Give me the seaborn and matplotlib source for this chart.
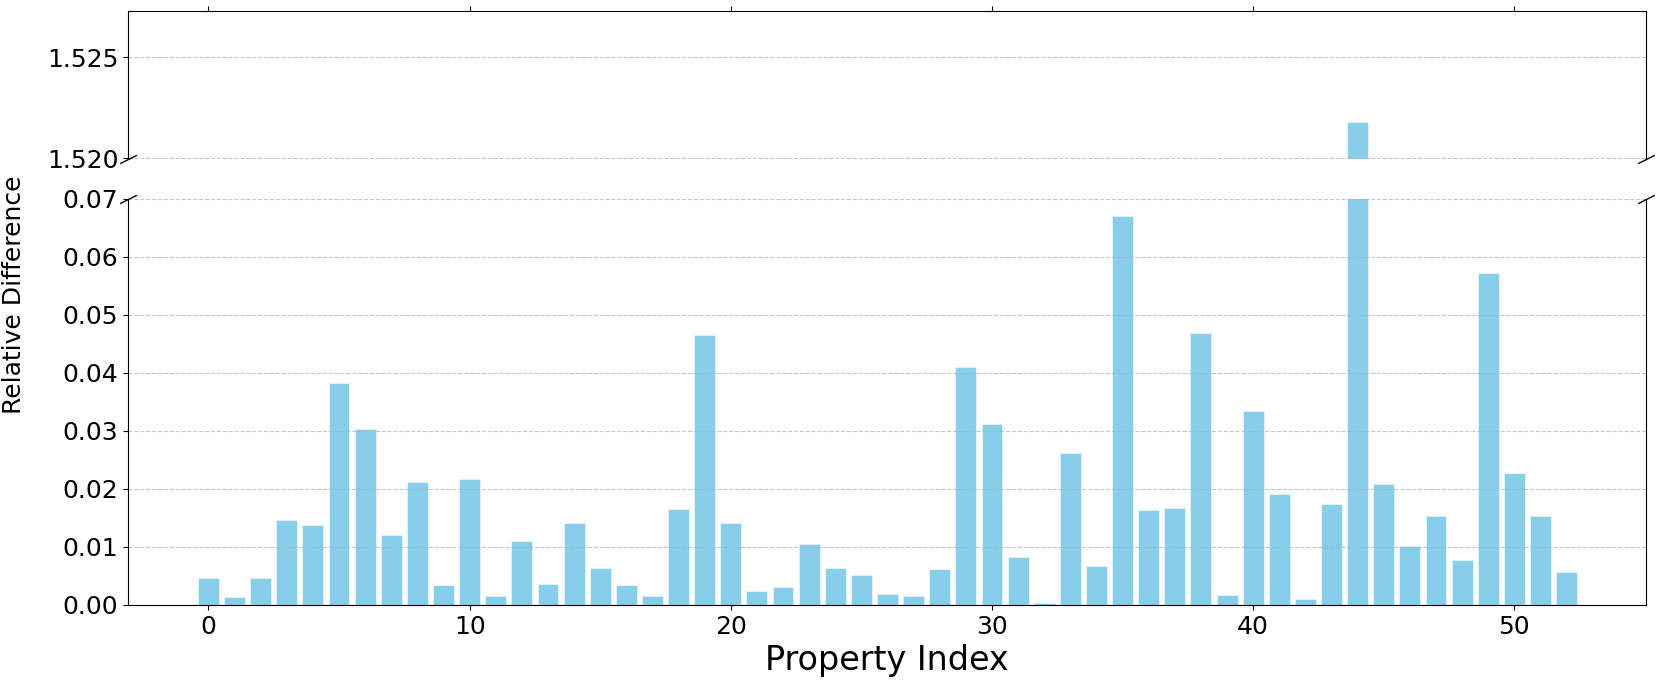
import numpy as np
import pandas as pd
import matplotlib
matplotlib.use("Agg")
import matplotlib.pyplot as plt
import matplotlib.ticker as mticker
import seaborn as sns

# ---- data ----
property_index = list(range(53))
relative_difference = [
    0.0046, 0.0013, 0.0046, 0.0147, 0.0138, 0.0383, 0.0304, 0.0120, 0.0212, 0.0035,
    0.0218, 0.0015, 0.0110, 0.0036, 0.0141, 0.0064, 0.0034, 0.0015, 0.0166, 0.0466,
    0.0141, 0.0025, 0.0031, 0.0105, 0.0064, 0.0051, 0.0019, 0.0016, 0.0062, 0.0410,
    0.0312, 0.0083, 0.0003, 0.0262, 0.0067, 0.0670, 0.0164, 0.0167, 0.0469, 0.0017,
    0.0334, 0.0192, 0.0010, 0.0174, 1.52180, 0.0209, 0.0102, 0.0153, 0.0077, 0.0573,
    0.0227, 0.0153, 0.0057,
]
x_ticks = [0, 10, 20, 30, 40, 50]
top_ticks = [1.520, 1.525]
bottom_ticks = [0.00, 0.01, 0.02, 0.03, 0.04, 0.05, 0.06, 0.07]

df = pd.DataFrame({"Property Index": property_index,
                   "Relative Difference": relative_difference})

plt.rcParams["font.size"] = 18

W, H = 1660, 684
fig = plt.figure(figsize=(W / 100, H / 100), dpi=100)
left, right = 128 / W, 1646 / W
ax2 = fig.add_axes([left, 1 - 605 / H, right - left, (605 - 199) / H])
ax1 = fig.add_axes([left, 1 - 159 / H, right - left, (159 - 10.6) / H], sharex=ax2)

for ax in (ax1, ax2):
    sns.barplot(data=df, x="Property Index", y="Relative Difference",
                native_scale=True, color="skyblue", saturation=1,
                errorbar=None, edgecolor="#e6f4fa", linewidth=0.6, ax=ax)
    ax.grid(axis="y", linestyle="--", alpha=0.7)
    ax.set_ylabel("")
    ax.tick_params(labelsize=18)

ax1.set_ylim(1.51997, 1.5273)
ax2.set_ylim(0.0, 0.07)
ax1.set_yticks(top_ticks)
ax2.set_yticks(bottom_ticks)
ax1.yaxis.set_major_formatter(mticker.FormatStrFormatter("%.3f"))
ax2.yaxis.set_major_formatter(mticker.FormatStrFormatter("%.2f"))
ax2.set_xticks(x_ticks)
ax2.set_xlim(-3.08, 55.04)

ax1.spines["bottom"].set_visible(False)
ax2.spines["top"].set_visible(False)
ax1.xaxis.tick_top()
ax1.tick_params(labeltop=False)
ax1.set_xlabel("")
ax2.xaxis.tick_bottom()
ax2.set_xlabel("Property Index", fontsize=24)

d = 0.5
kwargs = dict(marker=[(-1, -d), (1, d)], markersize=12, linestyle="none",
              color="k", mec="k", mew=1, clip_on=False)
ax1.plot([0, 1], [0, 0], transform=ax1.transAxes, **kwargs)
ax2.plot([0, 1], [1, 1], transform=ax2.transAxes, **kwargs)

fig.text(2 / W, 1 - 295 / H, "Relative Difference", rotation=90,
         va="center", ha="left", fontsize=18)

fig.savefig("out.png", dpi=100)
